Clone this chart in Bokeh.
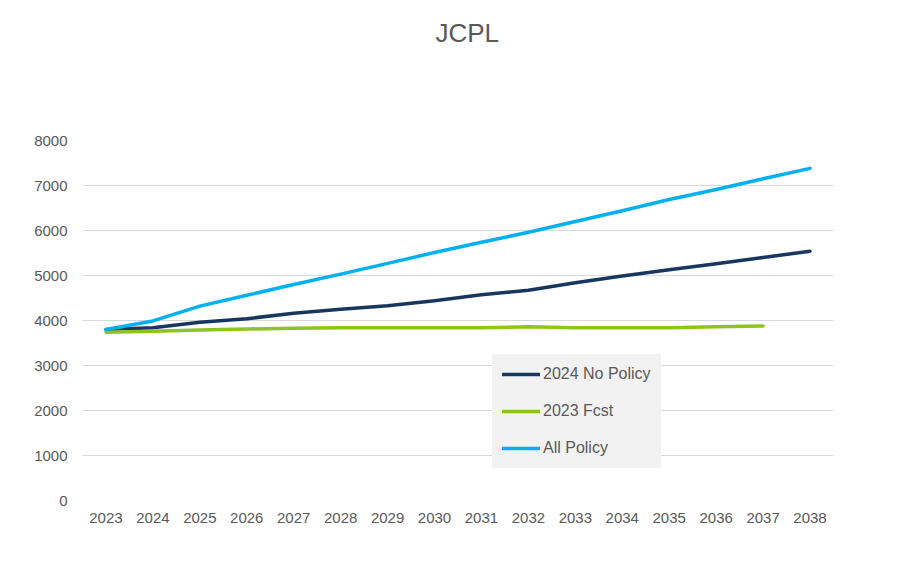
from bokeh.plotting import figure
from bokeh.models import FactorRange, Range1d, FixedTicker, Legend, LegendItem, Title
from bokeh.embed import file_html
from bokeh.resources import INLINE

years = [str(y) for y in range(2023, 2039)]
no_policy = [3800, 3840, 3960, 4040, 4160, 4250, 4330, 4440, 4570, 4670, 4840, 4990, 5130, 5260, 5400, 5540]
fcst_2023 = [3740, 3760, 3790, 3810, 3830, 3840, 3840, 3840, 3840, 3860, 3840, 3840, 3840, 3860, 3880]
all_policy = [3800, 3990, 4320, 4560, 4800, 5030, 5270, 5510, 5740, 5960, 6200, 6440, 6690, 6910, 7150, 7380]
y_ticks = [0, 1000, 2000, 3000, 4000, 5000, 6000, 7000, 8000]
title_text = "JCPL"

FONT = "Liberation Sans"
TXT = "#595959"

p = figure(width=891, height=568, x_range=FactorRange(*years), y_range=Range1d(0, 8000),
           output_backend="svg", toolbar_location=None,
           min_border_left=82, min_border_right=58, min_border_top=140, min_border_bottom=68)
p.outline_line_color = None
p.background_fill_color = "white"
p.border_fill_color = "white"

# spacer between the plot frame and the title
spacer = Title(text=" ", text_font_size="10px", standoff=70)
p.add_layout(spacer, "above")

p.title.text = title_text
p.title.align = "left"
p.title.offset = 353
p.title.standoff = 20
p.title.text_font = FONT
p.title.text_font_size = "26px"
p.title.text_font_style = "normal"
p.title.text_color = TXT

p.xgrid.grid_line_color = None
p.ygrid.grid_line_color = "#d9d9d9"
p.ygrid.grid_line_width = 1
p.yaxis.ticker = FixedTicker(ticks=y_ticks)

for ax in (p.xaxis, p.yaxis):
    ax.axis_line_color = None
    ax.major_tick_line_color = None
    ax.minor_tick_line_color = None
    ax.major_label_text_font = FONT
    ax.major_label_text_font_size = "15px"
    ax.major_label_text_color = TXT
p.yaxis.major_label_standoff = 9
p.xaxis.major_label_standoff = 6

r1 = p.line(years, no_policy, line_color="#17375E", line_width=3.5, line_cap="round", line_join="round")
r2 = p.line(years[:len(fcst_2023)], fcst_2023, line_color="#8FC31F", line_width=3.5, line_cap="round", line_join="round")
r3 = p.line(years, all_policy, line_color="#00B0F0", line_width=3.5, line_cap="round", line_join="round")

legend = Legend(items=[LegendItem(label="2024 No Policy", renderers=[r1]),
                       LegendItem(label="2023 Fcst", renderers=[r2]),
                       LegendItem(label="All Policy", renderers=[r3])],
                location=(410, 32))
legend.border_line_color = "#f2f2f2"
legend.border_line_width = 1
legend.background_fill_color = "#f2f2f2"
legend.background_fill_alpha = 1
legend.padding = 9
legend.spacing = 17
legend.margin = 0
legend.glyph_height = 20
legend.glyph_width = 38
legend.label_standoff = 3
legend.label_text_font = FONT
legend.label_text_font_size = "16px"
legend.label_text_color = TXT
p.add_layout(legend, "center")

open("out.html", "w").write(file_html(p, INLINE))
